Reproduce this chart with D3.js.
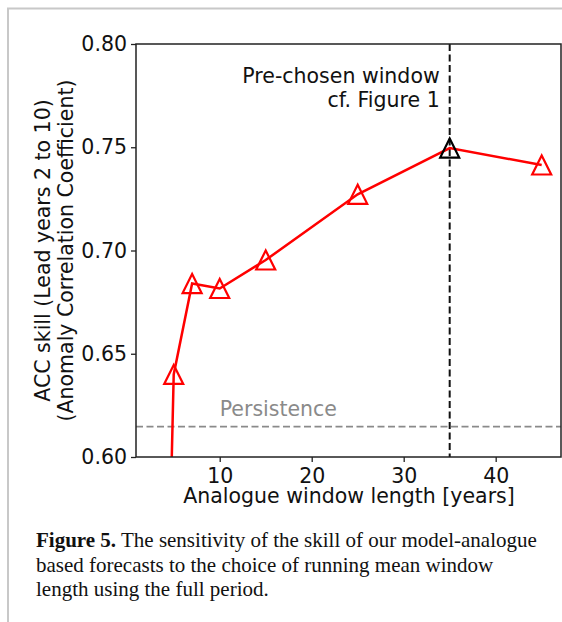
<!DOCTYPE html>
<html>
<head>
<meta charset="utf-8">
<script src="https://cdn.jsdelivr.net/npm/d3@7"></script>
<style>
body{margin:0;background:#fff}
svg text{font-family:"DejaVu Sans",sans-serif}
.cap{font-family:"Liberation Serif","Times New Roman",serif}
</style>
</head>
<body>
<div id="chart"></div>
<script>
// analogue window length vs ACC skill
var windowLen = [3, 5, 7, 10, 15, 25, 35, 45]
var accSkill = [0.26, 0.640, 0.684, 0.6816, 0.6954, 0.7272, 0.7496, 0.7414]
var chosenWindow = 35
var persistence = 0.6147
var yTicks = [0.60, 0.65, 0.70, 0.75, 0.80]
var xTicks = [10, 20, 30, 40]

function drawChart(){
    var W = 562, H = 622
    var svg = d3.select("#chart").append("svg").attr("width", W).attr("height", H)

    // page frame
    svg.append("path").attr("d", "M8,622V8.5H562").attr("fill", "none")
        .attr("stroke", "#c8c8c8").attr("stroke-width", 2)

    var pl = 136, pr = 561, pt = 44, pb = 457
    var x = d3.scaleLinear().domain([0.9, 47.1]).range([pl, pr])
    var y = d3.scaleLinear().domain([0.6, 0.8]).range([pb, pt])

    svg.append("clipPath").attr("id", "clip").append("rect")
        .attr("x", pl).attr("y", pt).attr("width", pr - pl).attr("height", pb - pt)

    var fs = 20.5

    // persistence
    svg.append("line")
        .attr("x1", pl).attr("x2", pr)
        .attr("y1", y(persistence)).attr("y2", y(persistence))
        .attr("stroke", "#8a8a8a").attr("stroke-width", 1.8).attr("stroke-dasharray", "7,3.5")
    svg.append("text").attr("x", x(10)).attr("y", y(persistence) - 11)
        .attr("font-size", fs).attr("fill", "#8a8a8a").text("Persistence")

    // chosen window
    svg.append("line")
        .attr("x1", x(chosenWindow)).attr("x2", x(chosenWindow))
        .attr("y1", pt).attr("y2", pb)
        .attr("stroke", "#111").attr("stroke-width", 2).attr("stroke-dasharray", "7,3.5")
    svg.append("text").attr("x", x(chosenWindow) - 10).attr("y", 83)
        .attr("font-size", fs).attr("text-anchor", "end").attr("fill", "#111").text("Pre-chosen window")
    svg.append("text").attr("x", x(chosenWindow) - 10).attr("y", 107)
        .attr("font-size", fs).attr("text-anchor", "end").attr("fill", "#111").text("cf. Figure 1")

    var pts = windowLen.map(function(d, i){ return [d, accSkill[i]] })

    svg.append("path").datum(pts)
        .attr("clip-path", "url(#clip)")
        .attr("fill", "none").attr("stroke", "#f00").attr("stroke-width", 2.5)
        .attr("d", d3.line().x(function(d){ return x(d[0]) }).y(function(d){ return y(d[1]) }))

    var tri = "M0,-9.5L-9.5,9.5L9.5,9.5Z"
    svg.selectAll(".mk").data(pts.filter(function(d){ return d[1] >= 0.6 }))
        .enter().append("path")
        .attr("class", "mk")
        .attr("d", tri)
        .attr("transform", function(d){ return "translate(" + x(d[0]) + "," + y(d[1]) + ")" })
        .attr("fill", "none")
        .attr("stroke", function(d){ return d[0] == chosenWindow ? "#000" : "#f00" })
        .attr("stroke-width", 2.2)

    // axes
    var xAxis = d3.axisBottom(x).tickValues(xTicks).tickSize(5).tickPadding(6).tickFormat(d3.format("d"))
    var yAxis = d3.axisLeft(y).tickValues(yTicks).tickSize(5).tickPadding(4).tickFormat(d3.format(".2f"))

    var gx = svg.append("g").attr("transform", "translate(0," + pb + ")").call(xAxis)
    var gy = svg.append("g").attr("transform", "translate(" + pl + ",0)").call(yAxis)
    ;[gx, gy].forEach(function(g){
        g.select(".domain").remove()
        g.selectAll("text").attr("font-size", fs).attr("font-family", "DejaVu Sans").attr("fill", "#111")
        g.selectAll("line").attr("stroke", "#222").attr("stroke-width", 1.3)
    })

    svg.append("rect").attr("x", pl).attr("y", pt).attr("width", pr - pl).attr("height", pb - pt)
        .attr("fill", "none").attr("stroke", "#222").attr("stroke-width", 1.5)

    svg.append("text").attr("x", 349).attr("y", 503)
        .attr("font-size", fs).attr("text-anchor", "middle").attr("fill", "#111")
        .text("Analogue window length [years]")

    var yl = svg.append("text").attr("transform", "translate(50," + (pt + pb) / 2 + ") rotate(-90)")
        .attr("font-size", fs).attr("text-anchor", "middle").attr("fill", "#111")
    yl.append("tspan").attr("x", 0).attr("y", 0).text("ACC skill (Lead years 2 to 10)")
    yl.append("tspan").attr("x", 0).attr("y", 23).text("(Anomaly Correlation Coefficient)")

    // caption
    var capLines = [
        [["Figure 5.", true], [" The sensitivity of the skill of our model-analogue", false]],
        [["based forecasts to the choice of running mean window", false]],
        [["length using the full period.", false]]
    ]
    capLines.forEach(function(line, i){
        var t = svg.append("text").attr("class", "cap").attr("x", 36).attr("y", 547 + i * 24.5)
            .attr("font-size", 21).attr("fill", "#111")
        line.forEach(function(p){
            t.append("tspan").attr("font-weight", p[1] ? "bold" : "normal").text(p[0])
        })
    })
}

drawChart()
</script>
</body>
</html>
